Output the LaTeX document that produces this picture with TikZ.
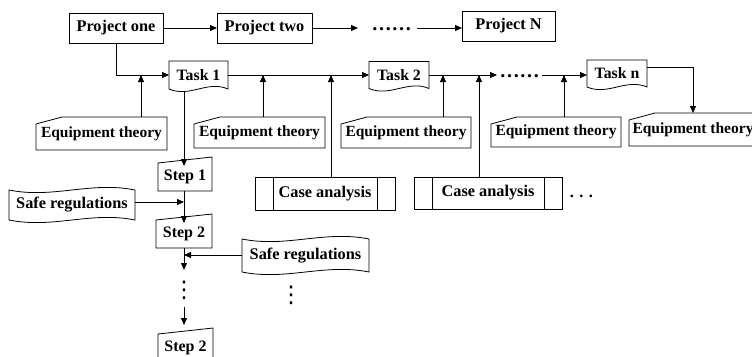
\documentclass[tikz,border=0pt]{standalone}
\usepackage{fontspec}
\setmainfont{Liberation Serif}
\newfontfamily\symfont{DejaVu Sans}
\usetikzlibrary{arrows.meta,calc}
\newcommand\docshape[1]{\draw[ln] (#1.south west) -- (#1.north west) -- (#1.north east) -- (#1.south east) .. controls ($(#1.south west)!0.65!(#1.south east)+(0,-9)$) and ($(#1.south west)!0.35!(#1.south east)+(0,9)$) .. (#1.south west) -- cycle;}
\newcommand\etshape[1]{\draw[ln] (#1.south west) -- ($(#1.north west)+(0,7)$) -- ($(#1.north west)+(26,0)$) -- (#1.north east) -- (#1.south east) -- cycle;}
\newcommand\stepshape[1]{\draw[ln] (#1.south west) -- (#1.north west) -- ($(#1.north east)+(0,-6)$) -- (#1.south east) -- cycle;}
\newcommand\tapeshape[1]{\draw[ln] (#1.north west) .. controls ($(#1.north west)!0.35!(#1.north east)+(0,9)$) and ($(#1.north west)!0.65!(#1.north east)+(0,-9)$) .. (#1.north east) -- (#1.south east) .. controls ($(#1.south west)!0.65!(#1.south east)+(0,-9)$) and ($(#1.south west)!0.35!(#1.south east)+(0,9)$) .. (#1.south west) -- cycle;}
\newcommand\predefbox[1]{\draw[ln] (#1.north west) rectangle (#1.south east); \draw[ln] ($(#1.north west)+(18,0)$) -- ($(#1.south west)+(18,0)$); \draw[ln] ($(#1.north east)+(-18,0)$) -- ($(#1.south east)+(-18,0)$);}
\begin{document}
\begin{tikzpicture}[x=1pt,y=-1pt,
  ln/.style={line width=0.8pt,black},
  arr/.style={ln,-{Triangle[length=7pt,width=6pt]}},
  base/.style={inner sep=0pt,outer sep=0pt,font=\bfseries\fontsize{16.3pt}{19pt}\selectfont},
  proj/.style={base,draw,line width=0.8pt},
  task/.style={base,font=\bfseries\fontsize{15.8pt}{19pt}\selectfont},
  stepbox/.style={base,font=\bfseries\fontsize{16pt}{19pt}\selectfont},
  eqbox/.style={base,font=\bfseries\fontsize{15.5pt}{19pt}\selectfont},
  dotsh/.style={inner sep=0pt,anchor=base,font=\bfseries\fontsize{20pt}{22pt}\selectfont},
  dotsv/.style={inner sep=0pt,font=\symfont\fontsize{23pt}{25pt}\selectfont},
]
\clip (0,0) rectangle (752,356);
\fill[white] (0,0) rectangle (752,356);
% project row
\node[proj,minimum width=94pt,minimum height=30pt] (p1) at (116,28) {Project one};
\node[proj,minimum width=95pt,minimum height=30pt] (p2) at (264.5,28) {Project two};
\node[proj,minimum width=93pt,minimum height=30pt] (pN) at (508.5,26) {Project N};
\coordinate (pd1) at (358,28);
\coordinate (pd2) at (417,28);
\node[dotsh] (pdots) at (391.5,30) {……};
% task row
\node[task,minimum width=59pt,minimum height=28pt] (t1) at (198.5,75) {Task 1};
\node[task,minimum width=60pt,minimum height=27pt] (t2) at (399,75) {Task 2};
\node[task,minimum width=60pt,minimum height=27pt] (tn) at (617,73.5) {Task n};
\coordinate (td1) at (497,75);
\coordinate (td2) at (542,75);
\node[dotsh] (tdots) at (519.5,77) {……};
\docshape{t1}\docshape{t2}\docshape{tn}
% equipment theory
\node[eqbox,minimum width=131pt,minimum height=33pt] (et1) at (101.5,133.5) {Equipment theory};
\node[eqbox,minimum width=131pt,minimum height=31pt] (et2) at (259.5,132.5) {Equipment theory};
\node[eqbox,minimum width=130pt,minimum height=31pt] (et3) at (406,132.5) {Equipment theory};
\node[eqbox,minimum width=130pt,minimum height=30pt] (et4) at (556,132) {Equipment theory};
\node[eqbox,minimum width=128pt,minimum height=33pt] (et5) at (693,129.5) {Equipment theory};
\etshape{et1}\etshape{et2}\etshape{et3}\etshape{et4}\etshape{et5}
% case analysis
\node[base,minimum width=140pt,minimum height=33pt] (ca1) at (325,193.5) {Case analysis};
\node[base,minimum width=148pt,minimum height=32pt] (ca2) at (488,193) {Case analysis};
\predefbox{ca1}\predefbox{ca2}
\node[base,anchor=base] (cadots) at (581.5,197) {.\hspace{5.4pt}.\hspace{5.4pt}.};
% steps
\node[stepbox,minimum width=54pt,minimum height=28pt] (s1) at (185,177) {Step 1};
\node[stepbox,minimum width=56pt,minimum height=28pt] (s2) at (184,234) {Step 2};
\node[stepbox,minimum width=55pt,minimum height=28pt] (s3) at (185.5,348) {Step 2};
\stepshape{s1}\stepshape{s2}\stepshape{s3}
% safe regulations
\node[base,minimum width=126pt,minimum height=30pt] (sr1) at (72,205) {Safe regulations};
\node[base,minimum width=127pt,minimum height=33pt] (sr2) at (305.5,255.5) {Safe regulations};
\tapeshape{sr1}\tapeshape{sr2}
\coordinate (sd1) at (184,270);
\coordinate (sd2) at (184,307);
\node[dotsv] (vd1) at (184,290) {⋮};
\node[dotsv] (vd2) at (291,295) {⋮};
% junctions
\coordinate (j1) at (141,75);
\coordinate (j2) at (263,75);
\coordinate (j3) at (331,75);
\coordinate (j4) at (443,75);
\coordinate (j5) at (479,75);
\coordinate (j6) at (564,75);
\coordinate (j8) at (184,202);
\coordinate (j9) at (184,255);
% connectors
\draw[arr] (p1.east) -- (p2.west);
\draw[arr] (p2.east) -- (pd1);
\draw[arr] (pd2) -- (pN.west |- pd2);
\draw[arr] (p1.south) |- (t1.west);
\draw[arr] (et1.north -| j1) -- (j1);
\draw[arr] (t1.east) -- (t2.west);
\draw[arr] (et2.north -| j2) -- (j2);
\draw[arr] (ca1.north -| j3) -- (j3);
\draw[arr] (t2.east) -- (td1);
\draw[arr] (et3.north -| j4) -- (j4);
\draw[arr] (ca2.north -| j5) -- (j5);
\draw[arr] (td2) -- (tn.west |- td2);
\draw[arr] (et4.north -| j6) -- (j6);
\draw[arr] ([yshift=6.5pt]tn.east) -| (et5.north);
\draw[arr,shorten <=2pt,shorten >=-3pt] (t1.south -| s2) -- (s1.north -| s2);
\draw[arr,shorten >=-3pt] (s1.south -| s2) -- (s2.north);
\draw[arr] (sr1.east |- j8) -- (j8);
\draw[arr] (s2.south) -- (sd1);
\draw[arr] (sr2.west |- j9) -- (j9);
\draw[arr,shorten >=9pt] (sd2) -- (s3.north -| sd2);
\end{tikzpicture}
\end{document}
